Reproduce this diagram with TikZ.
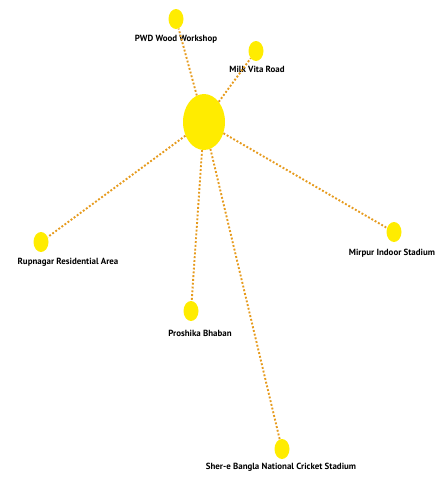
\documentclass[tikz,border=0pt]{standalone}
\usepackage{fontspec}
\setmainfont{PT Sans}
\usetikzlibrary{shapes.geometric}

\definecolor{spotyellow}{RGB}{255,236,0}
\definecolor{linkorange}{RGB}{230,155,30}

\begin{document}
\begin{tikzpicture}[
  x=1pt, y=-1pt,
  font=\bfseries\fontsize{8.9}{10}\selectfont,
  hub/.style={ellipse, fill=spotyellow, minimum width=42pt, minimum height=56pt, inner sep=0pt},
  spot/.style={ellipse, fill=spotyellow, minimum width=15pt, minimum height=20pt, inner sep=0pt},
  lab/.style={inner sep=1pt},
  link/.style={draw=linkorange, line width=1.9pt, dash pattern=on 1.9pt off 1.9pt}
]
\useasboundingbox (0,0) rectangle (439,479);

% ---------- Hub ----------
\node[hub] (hub) at (204,122) {};

% ---------- Places ----------
\node[spot] (pwd) at (176,19) {};
\node[lab] (pwdlab) at (176,39) {PWD Wood Workshop};
\node[spot] (milk) at (256,51) {};
\node[lab] (milklab) at (257,69) {Milk Vita Road};
\node[spot] (rup) at (41,242) {};
\node[lab] (ruplab) at (68,262) {Rupnagar Residential Area};
\node[spot] (mir) at (394,232) {};
\node[lab] (mirlab) at (392,253) {Mirpur Indoor Stadium};
\node[spot] (pro) at (191,311) {};
\node[lab] (prolab) at (200,333) {Proshika Bhaban};
\node[spot] (she) at (282,449) {};
\node[lab] (shelab) at (281,467) {Sher-e Bangla National Cricket Stadium};

% ---------- Links ----------
\foreach \p in {pwd,milk,rup,mir,pro,she}
  \draw[link] (hub) -- (\p);
\end{tikzpicture}
\end{document}
